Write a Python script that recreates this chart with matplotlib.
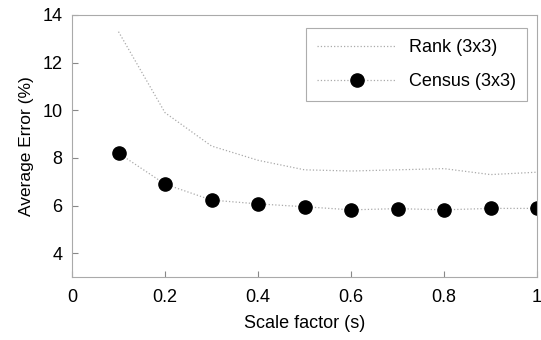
import matplotlib
matplotlib.use("Agg")
import matplotlib.pyplot as plt

plt.rcParams['font.family'] = ['Liberation Sans', 'DejaVu Sans']

scale = [0.1, 0.2, 0.3, 0.4, 0.5, 0.6, 0.7, 0.8, 0.9, 1.0]
rank = [13.3, 9.9, 8.5, 7.9, 7.5, 7.45, 7.5, 7.55, 7.3, 7.4]
census = [8.2, 6.9, 6.23, 6.07, 5.95, 5.82, 5.87, 5.82, 5.88, 5.88]

fig = plt.figure(figsize=(5.41, 3.40), dpi=100)
ax = fig.add_axes([72/541, 1-277/340, (537-72)/541, (277-15)/340])

ax.plot(scale, rank, color='#aaaaaa', linestyle=':', linewidth=0.9, label='Rank (3x3)')
ax.plot(scale, census, color='#aaaaaa', linestyle=':', linewidth=0.9,
        marker='o', markersize=9.5, markerfacecolor='black', markeredgecolor='black',
        label='Census (3x3)')

ax.set_xlim(0, 1)
ax.set_ylim(3, 14)
ax.set_xticks([0, 0.2, 0.4, 0.6, 0.8, 1])
ax.set_xticklabels(['0', '0.2', '0.4', '0.6', '0.8', '1'])
ax.set_yticks([4, 6, 8, 10, 12, 14])
ax.tick_params(direction='in', length=4, color='#888888', labelsize=13)
ax.tick_params(axis='x', pad=9)
ax.tick_params(axis='y', pad=7)
for s in ax.spines.values():
    s.set_color('#aaaaaa')
    s.set_linewidth(0.8)

ax.set_xlabel('Scale factor (s)', fontsize=13, labelpad=6)
ax.set_ylabel('Average Error (%)', fontsize=12.5, labelpad=6)

leg = ax.legend(loc='upper right', bbox_to_anchor=(0.978, 0.950), borderaxespad=0,
                fontsize=13, frameon=True, fancybox=False,
                edgecolor='#999999', handlelength=4.4, handletextpad=0.7,
                borderpad=0.6, labelspacing=0.95)
leg.get_frame().set_linewidth(0.8)

fig.savefig('out.png', dpi=100)
